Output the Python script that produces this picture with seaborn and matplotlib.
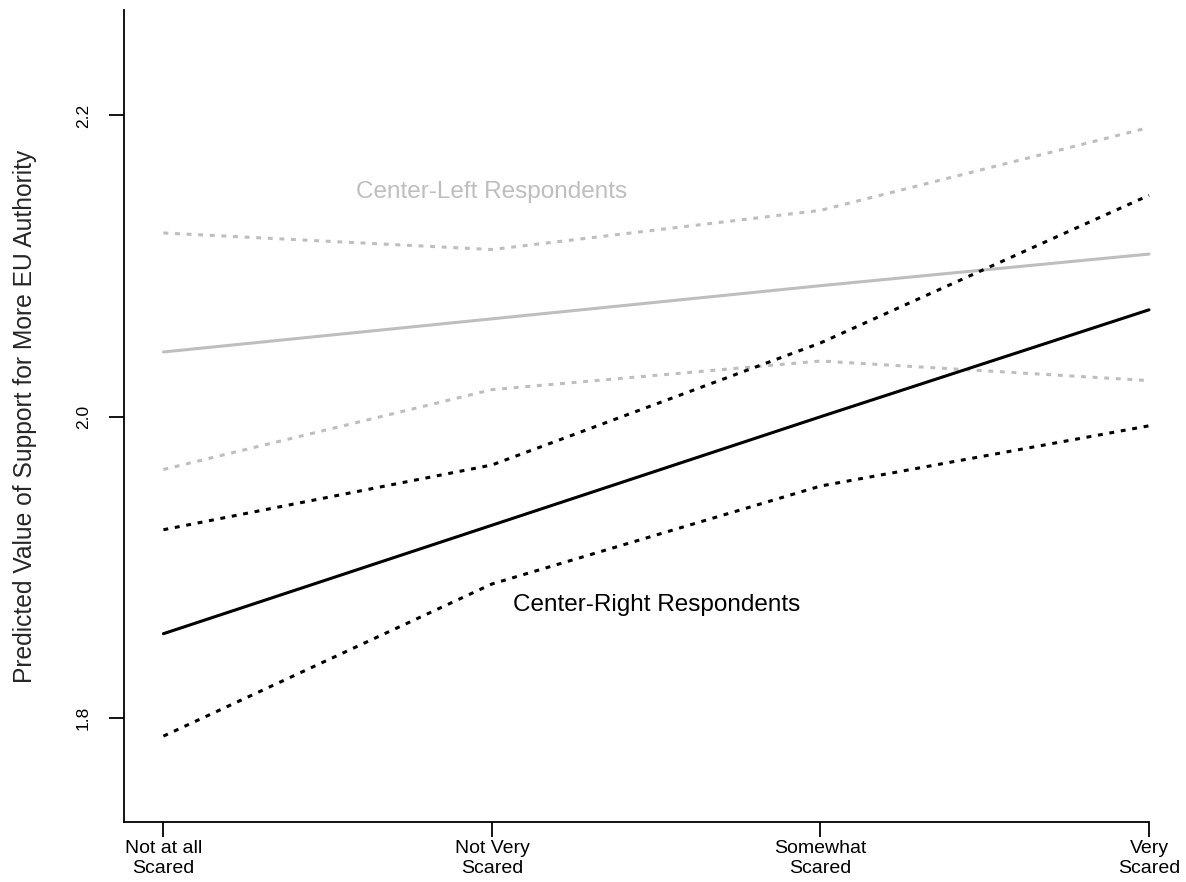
import matplotlib
matplotlib.use("Agg")
import matplotlib.pyplot as plt
import seaborn as sns
import pandas as pd

# Fear levels on the x axis
categories = ["Not at all\nScared", "Not Very\nScared", "Somewhat\nScared", "Very\nScared"]
positions = [0, 1, 2, 3]

# Predicted values with confidence bounds
left_fit = [2.043, 2.065, 2.087, 2.108]
left_upper = [2.122, 2.111, 2.137, 2.192]
left_lower = [1.965, 2.018, 2.037, 2.024]

right_fit = [1.856, 1.928, 2.000, 2.071]
right_upper = [1.925, 1.968, 2.049, 2.147]
right_lower = [1.788, 1.889, 1.954, 1.994]

y_ticks = [1.8, 2.0, 2.2]

sns.set_style("ticks")
plt.rcParams["font.family"] = ["Liberation Sans", "DejaVu Sans"]

GREY = "#bebebe"
BLACK = "#000000"

fig = plt.figure(figsize=(11.86, 8.82), dpi=100)
ax = fig.add_axes([124 / 1186, 1 - 822 / 882, (1149 - 124) / 1186, (822 - 10) / 882])

dotted = (0, (1.6, 2.2))
series = [
    (left_upper, GREY, dotted),
    (left_lower, GREY, dotted),
    (left_fit, GREY, "-"),
    (right_upper, BLACK, dotted),
    (right_lower, BLACK, dotted),
    (right_fit, BLACK, "-"),
]
for values, color, ls in series:
    df = pd.DataFrame({"x": positions, "y": values})
    sns.lineplot(data=df, x="x", y="y", ax=ax, color=color, linestyle=ls,
                 linewidth=2.2, clip_on=False)

ax.text(1.0, 2.149, "Center-Left Respondents", color=GREY, fontsize=17.5,
        ha="center", va="center")
ax.text(1.5, 1.875, "Center-Right Respondents", color=BLACK, fontsize=17.5,
        ha="center", va="center")

ax.set_xlim(-0.12, 3.0)
ax.set_ylim(1.731, 2.270)
ax.set_xticks(positions)
ax.set_xticklabels(categories, fontsize=14, linespacing=1.25)
ax.set_yticks(y_ticks)
ax.set_yticklabels([f"{v:.1f}" for v in y_ticks], fontsize=12.5, rotation=90, va="center")
ax.set_xlabel("")
ax.set_ylabel("Predicted Value of Support for More EU Authority", fontsize=17.7, labelpad=28)

for side in ["top", "right"]:
    ax.spines[side].set_visible(False)
for side in ["left", "bottom"]:
    ax.spines[side].set_linewidth(1.3)
    ax.spines[side].set_color("black")
ax.tick_params(axis="y", length=10.8, width=1.3, pad=13, colors="black")
ax.tick_params(axis="x", length=10.8, width=1.3, pad=2, colors="black")

fig.savefig("out.png", dpi=100)
